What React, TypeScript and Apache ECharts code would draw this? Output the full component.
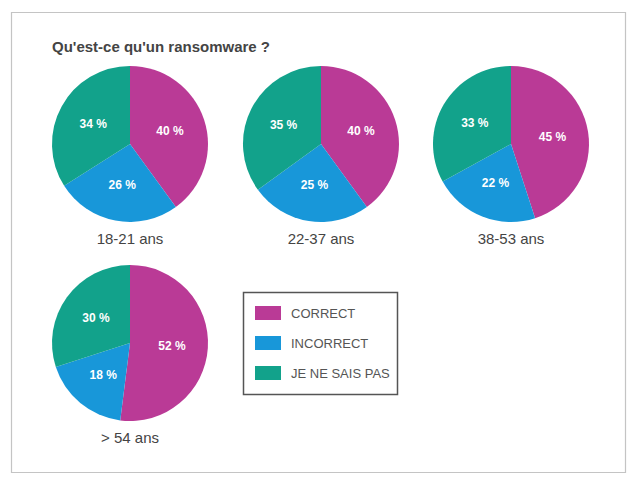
import React, { useEffect, useRef } from "react";
import * as echarts from "echarts";

const categories = ["CORRECT", "INCORRECT", "JE NE SAIS PAS"];
const groups = ["18-21 ans", "22-37 ans", "38-53 ans", "> 54 ans"];
const correct = [40, 40, 45, 52];
const incorrect = [26, 25, 22, 18];
const dontKnow = [34, 35, 33, 30];
const colors = ["#BA3A96", "#1897D9", "#12A28B"];

const centers: [number, number][] = [
  [130, 144],
  [321, 144],
  [511, 144],
  [130, 343],
];
const radius = 78;
const FONT = "'Liberation Sans', Arial, Helvetica, sans-serif";

export default function App() {
  const ref = useRef<HTMLDivElement>(null);
  useEffect(() => {
    document.body.style.margin = "0";
    const chart = echarts.init(ref.current!, null, { renderer: "svg" });
    const series = groups.map((g, i) => ({
      type: "pie",
      name: g,
      center: centers[i],
      radius: radius,
      startAngle: 90,
      clockwise: true,
      silent: true,
      label: {
        show: true,
        position: "inside",
        formatter: "{c} %",
        color: "#ffffff",
        fontWeight: "bold",
        fontSize: 12,
        fontFamily: FONT,
      },
      labelLine: { show: false },
      itemStyle: { borderWidth: 0 },
      data: [
        { name: categories[0], value: correct[i] },
        { name: categories[1], value: incorrect[i] },
        { name: categories[2], value: dontKnow[i] },
      ],
    }));
    const groupLabels = groups.map((g, i) => ({
      type: "text",
      x: centers[i][0],
      y: centers[i][1] + radius + 16,
      style: {
        text: g,
        fill: "#444444",
        font: `15px ${FONT}`,
        align: "center",
        verticalAlign: "middle",
      },
    }));
    chart.setOption({
      animation: false,
      color: colors,
      legend: {
        left: 255,
        top: 306,
        orient: "vertical",
        padding: 0,
        icon: "rect",
        itemWidth: 26,
        itemHeight: 14,
        itemGap: 16,
        selectedMode: false,
        textStyle: {
          color: "#555555",
          fontSize: 13,
          fontFamily: FONT,
          padding: [0, 0, 0, 5],
        },
        data: categories,
      },
      graphic: [
        {
          type: "rect",
          shape: { x: 11.5, y: 12.5, width: 614, height: 460 },
          style: { fill: "none", stroke: "#c4c4c4", lineWidth: 1.2 },
          silent: true,
        },
        {
          type: "rect",
          shape: { x: 243.5, y: 292.5, width: 154, height: 102 },
          style: { fill: "none", stroke: "#555555", lineWidth: 1.5 },
          silent: true,
        },
        {
          type: "text",
          x: 52,
          y: 46,
          style: {
            text: "Qu'est-ce qu'un ransomware ?",
            fill: "#444444",
            font: `bold 15px ${FONT}`,
            verticalAlign: "middle",
          },
        },
        ...groupLabels,
      ],
      series,
    });
    return () => chart.dispose();
  }, []);
  return <div ref={ref} style={{ width: 640, height: 486 }} />;
}
